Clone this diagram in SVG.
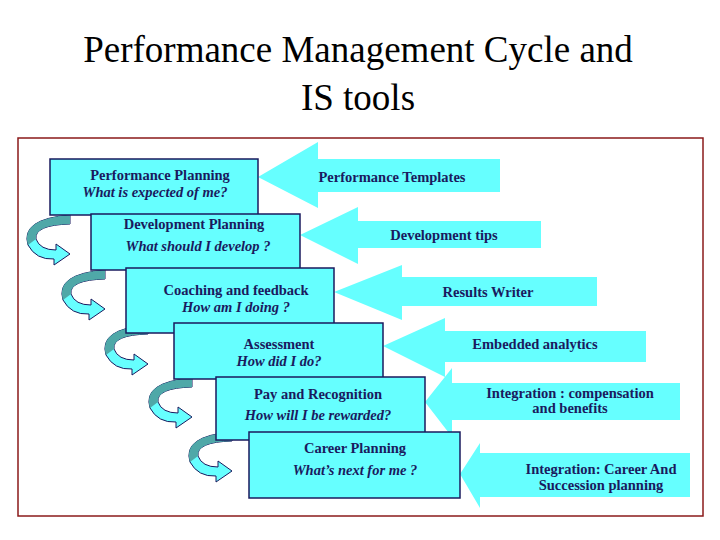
<svg xmlns="http://www.w3.org/2000/svg" width="720" height="540" viewBox="0 0 720 540">
<style>
.title{font-family:'Liberation Serif','Times New Roman','DejaVu Serif',serif;font-size:37px;fill:#000;text-anchor:middle}
.box{fill:#66ffff;stroke:#1a1a5e;stroke-width:1.5}
.arr{fill:#66ffff}
.t{font-family:'Liberation Serif','Times New Roman','DejaVu Serif',serif;font-size:14.5px;font-weight:bold;fill:#1a1a5e;text-anchor:middle}
.q{font-family:'Liberation Serif','Times New Roman','DejaVu Serif',serif;font-size:14.5px;font-weight:bold;font-style:italic;fill:#1a1a5e;text-anchor:middle}
.curl{fill:#66ffff;stroke:#1a1a5e;stroke-width:1}
.band{fill:#4fa8a8}
</style>
<defs>
<g id="curl">
<path class="curl" d="M20,0 Q-30,4 -22,30 Q-14,45 4,44 L4,50 L20,39 L6,29 L6,35 Q-10,35 -14,24 Q-16,10 20,9 Z"/>
<path class="band" d="M20,0 Q-30,4 -22,30 L-14,24 Q-16,10 20,9 Z"/>
</g>
</defs>
<rect width="720" height="540" fill="#fff"/>
<text class="title" x="358" y="62">Performance Management Cycle and</text>
<text class="title" x="358" y="110">IS tools</text>
<rect x="18" y="138" width="685" height="378" fill="none" stroke="#8b1a1a" stroke-width="1.5"/>
<g id="connectors">
<path class="arr" d="M258,177 L318,142 L318,159 L500,159 L500,192 L318,192 L318,208 Z"/>
<path class="arr" d="M300,235 L358,207 L358,221 L541,221 L541,248 L358,248 L358,264 Z"/>
<path class="arr" d="M334,292 L402,265 L402,277 L597,277 L597,306 L402,306 L402,320 Z"/>
<path class="arr" d="M383,346 L445,318 L445,331 L646,331 L646,362 L445,362 L445,377 Z"/>
<path class="arr" d="M425,402 L452,368 L452,383 L680,383 L680,420 L452,420 L452,437 Z"/>
<path class="arr" d="M460,474 L480,443 L480,453 L690,453 L690,497 L480,497 L480,508 Z"/>
<use href="#curl" x="50" y="215"/>
<use href="#curl" x="85" y="270"/>
<use href="#curl" x="128" y="325"/>
<use href="#curl" x="172" y="378"/>
<use href="#curl" x="212" y="432"/>
</g>
<g id="tools">
<text class="t" x="392" y="182">Performance Templates</text>
<text class="t" x="444" y="240">Development tips</text>
<text class="t" x="488" y="297">Results Writer</text>
<text class="t" x="535" y="349">Embedded analytics</text>
<text class="t" x="570" y="398">Integration : compensation</text>
<text class="t" x="570" y="413">and benefits</text>
<text class="t" x="601" y="474">Integration:  Career And</text>
<text class="t" x="601" y="490">Succession planning</text>
</g>
<g id="n1"><rect class="box" x="50" y="159" width="208" height="56"/>
<text class="t" x="160" y="180">Performance Planning</text><text class="q" x="155" y="197">What is expected of me?</text></g>
<g id="n2"><rect class="box" x="91" y="214" width="209" height="56"/>
<text class="t" x="194" y="229">Development Planning</text><text class="q" x="198" y="251">What should I develop ?</text></g>
<g id="n3"><rect class="box" x="126" y="268" width="208" height="65"/>
<text class="t" x="236" y="295">Coaching and feedback</text><text class="q" x="236" y="312">How am I doing ?</text></g>
<g id="n4"><rect class="box" x="174" y="323" width="209" height="56"/>
<text class="t" x="279" y="349">Assessment</text><text class="q" x="279" y="366">How did I do?</text></g>
<g id="n5"><rect class="box" x="216" y="377" width="209" height="63"/>
<text class="t" x="318" y="399">Pay and Recognition</text><text class="q" x="318" y="420">How will I be rewarded?</text></g>
<g id="n6"><rect class="box" x="249" y="432" width="211" height="66"/>
<text class="t" x="355" y="453">Career Planning</text><text class="q" x="355" y="475">What’s next for me ?</text></g>
</svg>
